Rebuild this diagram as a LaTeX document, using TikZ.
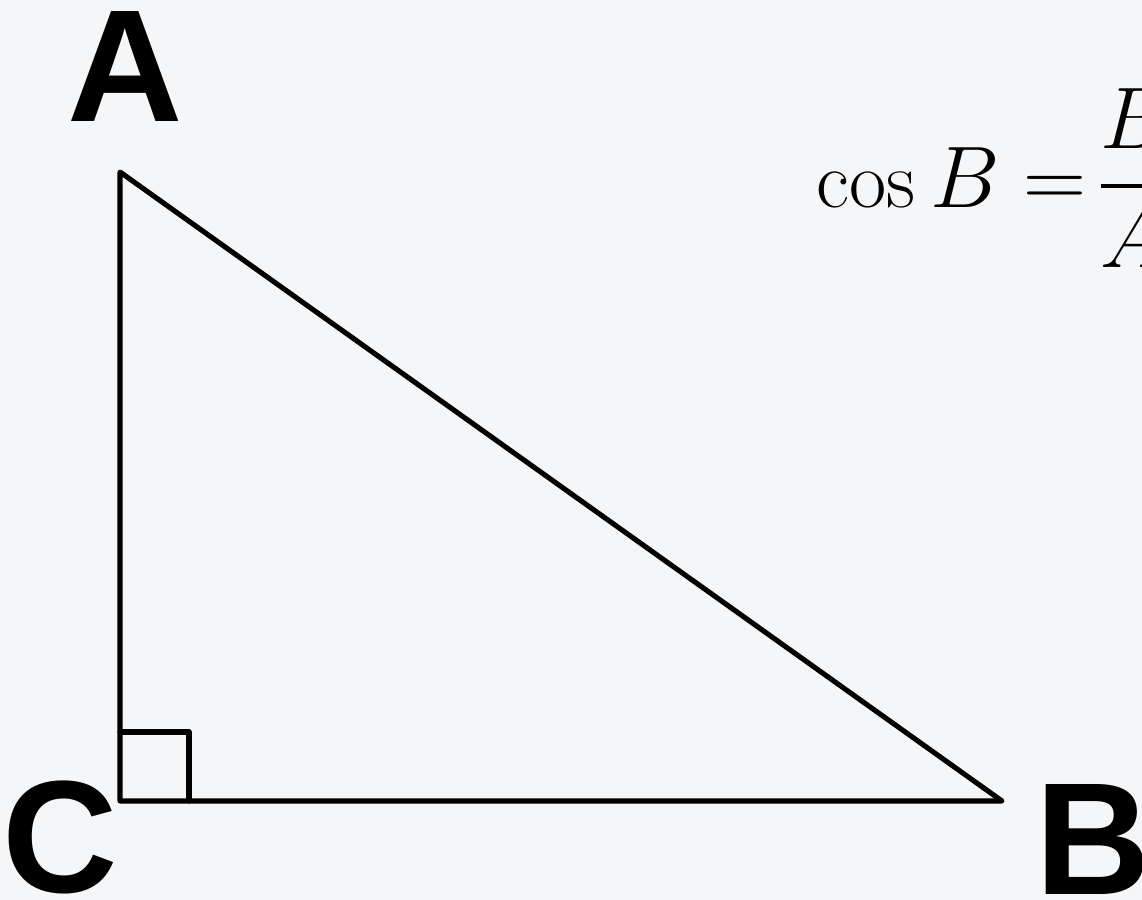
\documentclass[tikz,border=0pt]{standalone}
\usepackage{amsmath,mathtools}
\usepackage{fontspec}
\usetikzlibrary{calc}
\newfontfamily\vertexfont{Liberation Sans}
\definecolor{PaperGray}{HTML}{F5F6F8}
\definecolor{FigureInk}{HTML}{000000}

\begin{document}
\begin{tikzpicture}[
  line cap=round,
  line join=round,
  vertexlabel/.style={font=\vertexfont\bfseries\fontsize{45.5}{50}\selectfont,
    text=FigureInk,inner sep=0pt},
  side/.style={draw=FigureInk,line width=1.45pt}
]
  \pgfmathsetmacro{\legup}{6.29}
  \pgfmathsetmacro{\legright}{8.82}
  \pgfmathsetmacro{\marksize}{0.69}

  \path[fill=PaperGray] (0,0) rectangle (11.42,9);
  \useasboundingbox (0,0) rectangle (11.42,9);
  \clip (0,0) rectangle (11.42,9);

  \coordinate (C) at (1.20,0.99);
  \coordinate (A) at ($(C)+(0,\legup)$);
  \coordinate (B) at ($(C)+(\legright,0)$);

  \draw[side] (A)--(C)--(B)--cycle;
  \draw[side] ($(C)+(\marksize,0)$) |- ($(C)+(0,\marksize)$);

  \node[vertexlabel,anchor=base] (labelA) at (1.255,7.78) {A};
  \node[vertexlabel,anchor=base] (labelC) at (0.60,0.07) {C};
  \node[vertexlabel,anchor=base west] (labelB) at (10.35,0.05) {B};

  \node[anchor=base west,inner sep=0pt,text=FigureInk,
    font=\fontsize{23}{27}\selectfont] (cosrule) at (8.16,6.92)
    {$\displaystyle \cos B=\!\frac{\mathrlap{B}\hphantom{BC}}{\mathrlap{A}\hphantom{BC}}$};
\end{tikzpicture}
\end{document}
